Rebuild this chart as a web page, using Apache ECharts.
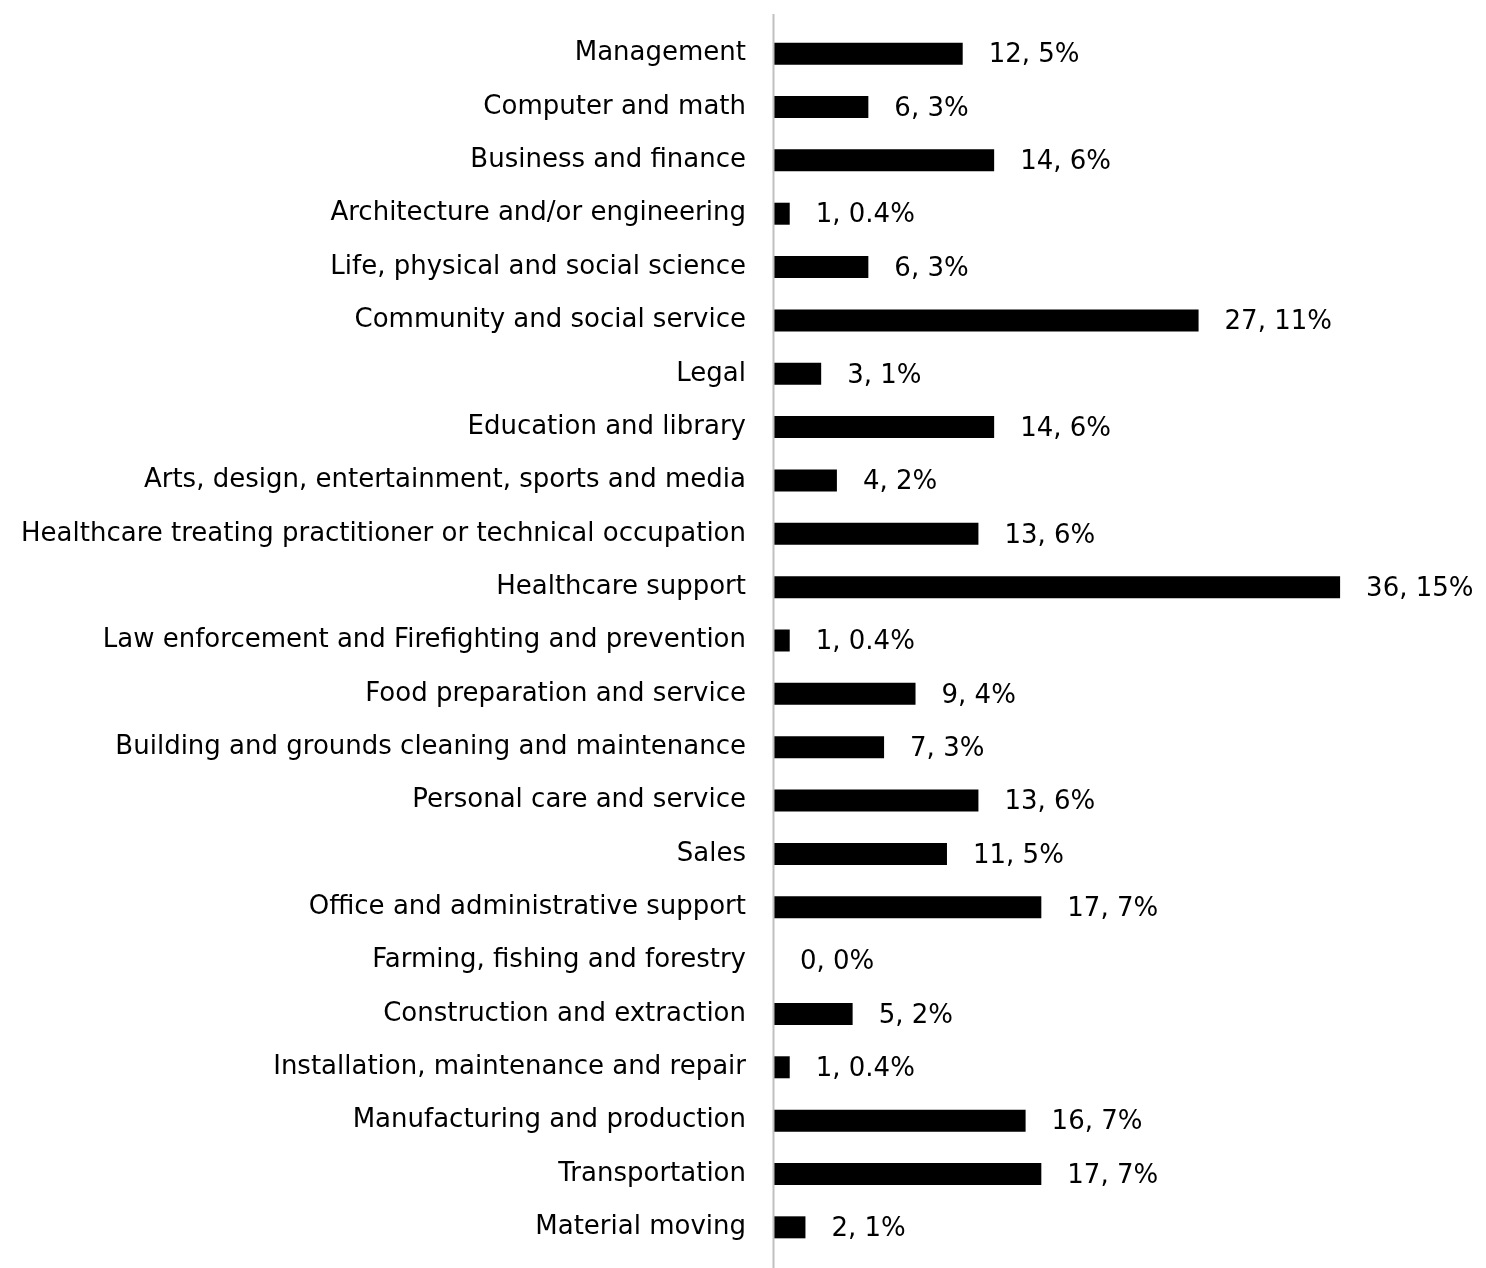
<!DOCTYPE html>
<html>
<head>
<meta charset="utf-8">
<title>Occupations</title>
<script src="https://cdn.jsdelivr.net/npm/echarts@6/dist/echarts.min.js"></script>
<style>
  html, body { margin: 0; padding: 0; background: #fff; }
  #main { width: 1486px; height: 1268px; }
</style>
</head>
<body>
<div id="main"></div>
<script>
  // categories, top to bottom
  var occupations = [
    'Management',
    'Computer and math',
    'Business and finance',
    'Architecture and/or engineering',
    'Life, physical and social science',
    'Community and social service',
    'Legal',
    'Education and library',
    'Arts, design, entertainment, sports and media',
    'Healthcare treating practitioner or technical occupation',
    'Healthcare support',
    'Law enforcement and Firefighting and prevention',
    'Food preparation and service',
    'Building and grounds cleaning and maintenance',
    'Personal care and service',
    'Sales',
    'Office and administrative support',
    'Farming, fishing and forestry',
    'Construction and extraction',
    'Installation, maintenance and repair',
    'Manufacturing and production',
    'Transportation',
    'Material moving'
  ]
  var counts = [12, 6, 14, 1, 6, 27, 3, 14, 4, 13, 36, 1, 9, 7, 13, 11, 17, 0, 5, 1, 16, 17, 2]
  var percents = ['5%', '3%', '6%', '0.4%', '3%', '11%', '1%', '6%', '2%', '6%', '15%', '0.4%', '4%', '3%',
    '6%', '5%', '7%', '0%', '2%', '0.4%', '7%', '7%', '1%']

  var font = '"DejaVu Sans", sans-serif'
  var chart = echarts.init(document.getElementById('main'))
  chart.setOption({
    animation: false,
    grid: { left: 774, right: 83, top: 27, bottom: 14 },
    xAxis: {
      type: 'value',
      min: 0,
      max: 40,
      show: false
    },
    yAxis: {
      type: 'category',
      inverse: true,
      data: occupations,
      axisLine: { show: false },
      axisTick: { show: false },
      axisLabel: {
        margin: 28,
        fontSize: 26,
        color: '#000',
        fontFamily: font,
        padding: [4, 0, 0, 0]
      }
    },
    series: [
      {
        type: 'bar',
        data: counts,
        barWidth: 22,
        itemStyle: { color: '#000' },
        label: {
          show: true,
          position: 'right',
          distance: 26,
          offset: [0, 2],
          fontSize: 26,
          color: '#000',
          fontFamily: font,
          formatter: function (p) {
            return p.value + ', ' + percents[p.dataIndex]
          }
        }
      }
    ]
  })

  // vertical axis line runs past the bands, top to bottom of the picture
  var x0 = Math.round(chart.convertToPixel({ xAxisIndex: 0 }, 0)) - 0.5
  chart.setOption({
    graphic: [{
      type: 'line',
      shape: { x1: x0, y1: 14, x2: x0, y2: 1268 },
      style: { stroke: '#c0c0c0', lineWidth: 2 },
      z: 10
    }]
  })
</script>
</body>
</html>
